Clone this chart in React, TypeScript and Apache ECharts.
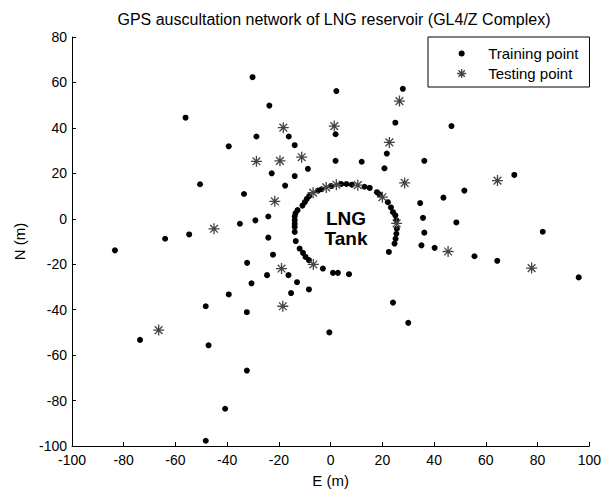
import React, { useEffect, useRef } from "react";
import * as echarts from "echarts";

const TITLE = "GPS auscultation network of LNG reservoir (GL4/Z Complex)";
const X_NAME = "E (m)";
const Y_NAME = "N (m)";
const SERIES_NAMES = ["Training point", "Testing point"];
const TANK_LABEL = "LNG\nTank";

const trainingOuter: [number, number][] = [
  [-30.2, 62.3], [-23.7, 49.8], [-56.1, 44.5], [-28.7, 36.2], [-16.2, 36.2],
  [-39.4, 31.9], [-13.9, 32.4], [-8.8, 22.0], [-22.8, 20.0], [-13.9, 18.8],
  [-17.6, 14.6], [-50.5, 15.2], [-33.5, 10.9], [-24.1, 1.0], [-29.1, -0.7],
  [-35.1, -2.2], [-54.7, -6.9], [-64.0, -8.8], [-24.1, -8.3], [2.2, 56.2],
  [27.9, 57.2], [25.0, 42.3], [46.7, 40.8], [1.9, 37.2], [21.7, 28.7],
  [1.9, 25.5], [12.0, 25.1], [20.8, 22.2], [36.2, 25.5], [71.0, 19.3],
  [51.7, 12.4], [43.6, 9.3], [34.6, 6.9], [35.7, 0.4], [48.6, -1.6],
  [82.0, -5.7], [36.2, -6.1], [-83.4, -13.9], [-22.3, -15.8], [-32.3, -19.4],
  [-24.6, -24.8], [-30.6, -28.4], [-16.3, -24.8], [-13.0, -27.9], [-15.3, -32.7],
  [-8.4, -31.1], [-39.4, -33.3], [-48.3, -38.5], [-32.4, -41.1], [-73.7, -53.3],
  [-47.2, -55.7], [-32.4, -66.8], [-40.8, -83.6], [-48.3, -97.7], [35.1, -11.7],
  [40.2, -12.8], [55.6, -16.5], [64.4, -18.5], [95.9, -25.8], [24.1, -36.9],
  [30.0, -45.8], [-0.5, -50.0],
];

const trainingTank: [number, number][] = [
  [-9.7, -16.8], [-10.7, -15.0], [-12.0, -13.1], [-13.5, -9.8], [-13.9, -5.8],
  [-13.9, -3.6], [-13.9, -2.2], [-13.9, -0.7], [-13.9, 1.0], [-13.6, 2.4],
  [-12.8, 3.8], [-10.9, 5.8], [-10.0, 7.3], [-9.2, 8.8], [-8.3, 10.0],
  [-4.9, 12.4], [-3.5, 13.0], [0.2, 14.4], [4.1, 15.3], [6.1, 15.3],
  [8.2, 15.0], [13.1, 14.1], [15.1, 13.6], [17.9, 11.7], [18.8, 10.8],
  [22.1, 7.3], [23.3, 5.0], [24.1, 2.9], [25.0, 1.5], [25.4, -0.7],
  [25.6, -4.4], [25.4, -6.6], [25.1, -8.8], [24.7, -10.9], [22.5, -14.6],
  [-8.4, -18.2], [-3.0, -21.9], [0.9, -23.8], [2.8, -23.8], [7.1, -24.4],
];

const testing: [number, number][] = [
  [-18.3, 40.1], [-28.7, 25.3], [-19.6, 25.5], [-11.2, 27.1], [-21.6, 7.7],
  [-45.1, -4.4], [1.4, 40.8], [26.6, 51.8], [22.7, 33.6], [28.6, 15.8],
  [64.5, 16.8], [-19.0, -21.9], [-6.7, -20.1], [-66.5, -49.0], [-18.5, -38.5],
  [45.4, -14.4], [77.7, -21.7], [-6.8, 11.5], [-1.7, 13.8], [2.2, 15.0],
  [10.5, 14.8], [20.0, 9.5], [25.5, -2.0],
];

const X_MIN = -100, X_MAX = 100, X_STEP = 20;
const Y_MIN = -100, Y_MAX = 80, Y_STEP = 20;

const FONT = 'Arial, "Liberation Sans", sans-serif';
const STAR = "path://M5,0L5,10M0,5L10,5M1.5,1.5L8.5,8.5M1.5,8.5L8.5,1.5";
// legend icons padded inside a 12x12 box (moveTo corners set the bounds)
const LEG_DOT = "path://M0,0M12,12M9,6A3,3,0,1,1,3,6A3,3,0,1,1,9,6Z";
const LEG_STAR = "path://M0,0M12,12M6,1.5L6,10.5M1.5,6L10.5,6M2.8,2.8L9.2,9.2M2.8,9.2L9.2,2.8";

export default function App() {
  const ref = useRef<HTMLDivElement>(null);
  useEffect(() => {
    if (!ref.current) return;
    const chart = echarts.init(ref.current, undefined, { renderer: "svg" });
    const axisCommon = {
      axisLine: { onZero: false, lineStyle: { color: "#000", width: 1 } },
      axisTick: { inside: true, length: 4, lineStyle: { color: "#000" } },
      splitLine: { show: false },
      axisLabel: { color: "#000", fontSize: 14, fontFamily: FONT },
      nameTextStyle: { color: "#000", fontSize: 15, fontFamily: FONT },
    };
    chart.setOption({
      animation: false,
      backgroundColor: "#fff",
      title: {
        text: TITLE,
        left: 334,
        textAlign: "center",
        top: 11,
        padding: 0,
        textStyle: { fontSize: 16, fontWeight: "normal", color: "#000", fontFamily: FONT },
      },
      grid: { left: 72, right: 14, top: 37, bottom: 45, containLabel: false },
      xAxis: {
        type: "value",
        min: X_MIN,
        max: X_MAX,
        interval: X_STEP,
        name: X_NAME,
        nameLocation: "middle",
        nameGap: 27,
        ...axisCommon,
        axisLabel: { ...axisCommon.axisLabel, margin: 7 },
      },
      yAxis: {
        type: "value",
        min: Y_MIN,
        max: Y_MAX,
        interval: Y_STEP,
        name: Y_NAME,
        nameLocation: "middle",
        nameGap: 45,
        ...axisCommon,
        axisLabel: { ...axisCommon.axisLabel, margin: 5 },
      },
      legend: {
        orient: "vertical",
        left: 428,
        top: 37,
        padding: [9, 11, 6, 27],
        itemGap: 5,
        itemWidth: 43,
        itemHeight: 12,
        borderColor: "#000",
        borderWidth: 1,
        backgroundColor: "#fff",
        textStyle: { color: "#000", fontSize: 15, fontFamily: FONT },
        data: [
          { name: SERIES_NAMES[0], icon: LEG_DOT, itemStyle: { color: "#000", borderWidth: 0 } },
          {
            name: SERIES_NAMES[1],
            icon: LEG_STAR,
            itemStyle: { color: "#444", borderColor: "#444", borderWidth: 1.3 },
          },
        ],
      },
      graphic: [
        {
          type: "text",
          x: 346,
          y: 208,
          style: {
            text: TANK_LABEL,
            textAlign: "center",
            font: `bold 19px ${FONT}`,
            fill: "#000",
            lineHeight: 20,
          },
          z: 10,
        },
      ],
      series: [
        {
          name: SERIES_NAMES[0],
          type: "scatter",
          symbol: "circle",
          symbolSize: 6,
          itemStyle: { color: "#000", opacity: 1 },
          data: [...trainingOuter, ...trainingTank],
        },
        {
          name: SERIES_NAMES[1],
          type: "scatter",
          symbol: STAR,
          symbolSize: 11,
          itemStyle: { color: "#444", borderColor: "#444", borderWidth: 1.3, opacity: 1 },
          data: testing,
        },
      ],
    });
    return () => chart.dispose();
  }, []);
  return (
    <div
      ref={ref}
      style={{ position: "fixed", left: 0, top: 0, width: 604, height: 493 }}
    />
  );
}
